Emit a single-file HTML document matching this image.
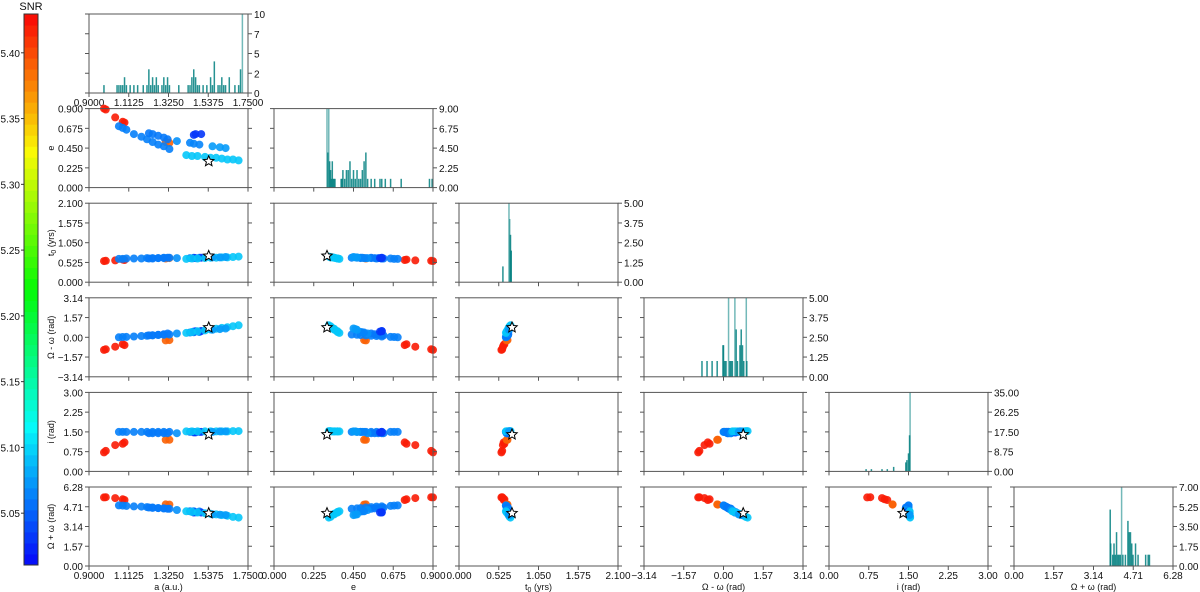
<!DOCTYPE html>
<html><head><meta charset="utf-8"><style>
html,body{margin:0;padding:0;background:#fff;width:1200px;height:592px;overflow:hidden}
svg{display:block;font-family:"Liberation Sans","DejaVu Sans",sans-serif}
</style></head><body>
<svg id="fig" width="1200" height="592"></svg>
<script>
// ---- data ----
const snr = [5.42,5.42,5.42,5.42,5.42, 5.39,5.39,
 5.063,5.063,5.063,5.063,5.063,5.063,5.063,5.063,5.063,5.063,
 5.06,5.06,5.06,5.06,5.06, 5.07, 5.065,5.065,5.065, 5.031,5.031,5.031,
 5.094,5.094,5.094,5.094,5.094,5.094,5.094,5.094,5.094,5.094, 5.075,5.075,5.075];
const aVals = [0.98,0.99,1.04,1.08,1.09, 1.31,1.33,
 1.06,1.08,1.10,1.14,1.18,1.21,1.24,1.27,1.30,1.33,
 1.22,1.24,1.27,1.30,1.32, 1.37, 1.44,1.46,1.49, 1.46,1.47,1.50,
 1.42,1.45,1.48,1.52,1.55,1.58,1.61,1.64,1.67,1.70, 1.56,1.60,1.63];
const eVals = [0.90,0.89,0.80,0.75,0.74, 0.52,0.51,
 0.70,0.68,0.66,0.61,0.58,0.55,0.52,0.49,0.47,0.44,
 0.62,0.61,0.59,0.57,0.55, 0.53, 0.51,0.50,0.49, 0.60,0.61,0.61,
 0.37,0.36,0.36,0.35,0.34,0.34,0.33,0.32,0.32,0.31, 0.47,0.46,0.45];
const t0Vals = [0.56,0.57,0.58,0.60,0.59, 0.63,0.64,
 0.62,0.62,0.63,0.63,0.63,0.64,0.64,0.64,0.65,0.65,
 0.63,0.63,0.64,0.64,0.65, 0.64, 0.64,0.65,0.65, 0.64,0.64,0.65,
 0.62,0.63,0.63,0.64,0.65,0.65,0.66,0.66,0.67,0.68, 0.66,0.66,0.67];
const dmVals = [-1.0,-0.95,-0.75,-0.55,-0.62, -0.25,-0.22,
 0.0,0.02,0.03,0.06,0.10,0.12,0.15,0.18,0.20,0.22,
 0.15,0.17,0.20,0.25,0.30, 0.30, 0.38,0.40,0.42, 0.45,0.48,0.50,
 0.35,0.42,0.48,0.55,0.62,0.68,0.75,0.80,0.88,0.95, 0.60,0.65,0.70];
const incVals = [0.72,0.78,1.00,1.05,1.10, 1.20,1.20,
 1.50,1.50,1.50,1.50,1.50,1.50,1.50,1.50,1.50,1.50,
 1.45,1.45,1.45,1.45,1.45, 1.45, 1.50,1.50,1.50, 1.48,1.48,1.50,
 1.52,1.52,1.52,1.52,1.52,1.52,1.52,1.52,1.53,1.53, 1.50,1.52,1.52];
const dpVals = [5.45,5.47,5.40,5.30,5.25, 4.90,4.88,
 4.82,4.80,4.78,4.74,4.72,4.68,4.65,4.60,4.58,4.55,
 4.65,4.62,4.60,4.58,4.55, 4.45, 4.35,4.35,4.33, 4.25,4.27,4.25,
 4.35,4.30,4.25,4.20,4.15,4.10,4.05,4.00,3.90,3.85, 4.10,4.08,4.05];
const truth = [1.54,0.30,0.70,0.78,1.40,4.20];

const histA = [[0.98,1],[1.05,1],[1.06,1],[1.07,1],[1.08,1],[1.09,2],[1.10,1],[1.12,1],[1.14,1],[1.16,1],[1.19,1],[1.21,1],[1.22,3],[1.23,1],[1.24,2],[1.25,1],[1.26,2],[1.27,1],[1.29,1],[1.30,2],[1.31,1],[1.32,2],[1.33,1],[1.38,1],[1.43,1],[1.44,1],[1.45,2],[1.46,3],[1.47,2],[1.48,1],[1.49,1],[1.51,1],[1.53,1],[1.55,2],[1.56,1],[1.57,4],[1.59,1],[1.60,1],[1.61,2],[1.62,1],[1.63,1],[1.65,2],[1.68,1],[1.70,1],[1.71,3],[1.72,10]];
const histE = [[0.30,9],[0.305,4],[0.31,9],[0.315,3],[0.32,2],[0.325,1],[0.33,3],[0.335,1],[0.34,1],[0.345,1],[0.38,1],[0.385,1],[0.39,2],[0.40,1],[0.41,2],[0.42,2],[0.43,3],[0.44,1],[0.45,2],[0.46,1],[0.47,2],[0.48,1],[0.49,1],[0.50,2],[0.51,3],[0.52,4],[0.53,1],[0.55,1],[0.57,1],[0.60,1],[0.61,1],[0.63,1],[0.66,1],[0.72,1],[0.88,1],[0.895,1]];
const histT = [[0.58,1],[0.66,5],[0.67,4],[0.68,3],[0.69,2]];
const histDm = [[-0.85,1],[-0.65,1],[-0.45,1],[-0.25,1],[-0.02,2],[0.0,2],[0.05,1],[0.1,1],[0.2,5],[0.25,1],[0.3,1],[0.35,1],[0.45,5],[0.5,3],[0.55,1],[0.65,2],[0.7,3],[0.75,2],[0.8,1],[0.9,5],[0.92,1]];
const histI = [[0.7,1],[0.8,1],[1.0,1],[1.1,1],[1.22,2],[1.45,4],[1.47,5],[1.5,8],[1.52,16],[1.53,35]];
const histDp = [[3.8,5],[3.82,2],[3.9,1],[3.95,2],[4.0,1],[4.05,3],[4.1,1],[4.15,1],[4.2,1],[4.25,7],[4.3,1],[4.4,1],[4.5,4],[4.55,3],[4.6,3],[4.65,2],[4.7,1],[4.8,2],[4.9,1],[5.2,1],[5.3,1],[5.35,1]];

const axisTickLabels = [
 ["0.9000","1.1125","1.3250","1.5375","1.7500"],
 ["0.000","0.225","0.450","0.675","0.900"],
 ["0.000","0.525","1.050","1.575","2.100"],
 ["\u22123.14","\u22121.57","0.00","1.57","3.14"],
 ["0.00","0.75","1.50","2.25","3.00"],
 ["0.00","1.57","3.14","4.71","6.28"]];
const histTickLabels = [
 ["0","2","5","7","10"],
 ["0.00","2.25","4.50","6.75","9.00"],
 ["0.00","1.25","2.50","3.75","5.00"],
 ["0.00","1.25","2.50","3.75","5.00"],
 ["0.00","8.75","17.50","26.25","35.00"],
 ["0.00","1.75","3.50","5.25","7.00"]];
const histMax = [10,9,5,5,35,7];
const axisNames = ["a (a.u.)","e","t0 (yrs)","\u03A9 - \u03C9 (rad)","i (rad)","\u03A9 + \u03C9 (rad)"];
const cbTicks = ["5.05","5.10","5.15","5.20","5.25","5.30","5.35","5.40"];

// ---- layout ----
const ranges = [[0.9,1.75],[0,0.9],[0,2.1],[-3.14,3.14],[0,3],[0,6.28]];
const vars = [aVals,eVals,t0Vals,dmVals,incVals,dpVals];
const hists = [histA,histE,histT,histDm,histI,histDp];
const X0=89, XS=185, W=159, Y0=14, YS=94.6, H=79;
const NS="http://www.w3.org/2000/svg";
const svg=document.getElementById('fig');
function el(tag,attrs,parent){const e=document.createElementNS(NS,tag);for(const k in attrs)e.setAttribute(k,attrs[k]);(parent||svg).appendChild(e);return e;}
function txt(s,x,y,anchor,parent,size){const t=el('text',{x:x,y:y,'text-anchor':anchor||'middle','font-size':size||10,fill:'#111'},parent);t.textContent=s;return t;}
function sx(c,v){const r=ranges[c];return X0+XS*c+(v-r[0])/(r[1]-r[0])*W;}
function sy(r,v){const g=ranges[r];return Y0+YS*r+H-(v-g[0])/(g[1]-g[0])*H;}
const VMIN=5.0106, VMAX=5.4295;
function cmap(t){t=Math.max(0,Math.min(1,t));const h=240*(1-t);return `hsl(${h.toFixed(1)},95%,50%)`;}
function colorOf(s){return cmap((s-VMIN)/(VMAX-VMIN));}
function star(cx,cy,R){let p=[];for(let k=0;k<10;k++){const rr=k%2?R*0.45:R;const an=-Math.PI/2+k*Math.PI/5;p.push((cx+rr*Math.cos(an)).toFixed(1)+','+(cy+rr*Math.sin(an)).toFixed(1));}return p.join(' ');}

for(let r=0;r<6;r++){
 for(let c=0;c<=r;c++){
  const x=X0+XS*c, y=Y0+YS*r;
  const g=el('g',{});
  
  
  if(r===c){
   const hmax=histMax[c], bw=Math.max(1.5,W/110);
   hists[c].forEach(([v,n])=>{
    const bx=sx(c,v), bh=n/hmax*H;
    const b=el('rect',{x:(bx-bw/2).toFixed(2),y:(y+H-bh).toFixed(2),width:bw.toFixed(2),height:bh.toFixed(2),fill:'#007f7f','fill-opacity':n>=hmax*0.8?0.55:0.85},g);
    
    
   });
   for(let k=0;k<5;k++){const ty=y+H-k*H/4;el('line',{x1:x+W,x2:x+W+4,y1:ty,y2:ty,stroke:'#555'},g);txt(histTickLabels[c][k],x+W+6,ty+4,'start',g);}
  } else {
   for(let i=0;i<aVals.length;i++){
    const p=el('circle',{cx:sx(c,vars[c][i]).toFixed(1),cy:sy(r,vars[r][i]).toFixed(1),r:4,fill:colorOf(snr[i]),'fill-opacity':0.9},g);
    
    
   }
   const s=el('polygon',{points:star(sx(c,truth[c]),sy(r,truth[r]),5.5),fill:'#fff',stroke:'#000','stroke-width':1},g);
   
   
   for(let k=0;k<5;k++){const ty=y+H-k*H/4;el('line',{x1:x+W,x2:x+W+4,y1:ty,y2:ty,stroke:'#555'},g);}
  }
  el('rect',{x:x,y:y,width:W,height:H,fill:'none',stroke:'#555','stroke-width':1},g);
  for(let k=0;k<5;k++){
   const tx=x+k*W/4;el('line',{x1:tx,x2:tx,y1:y+H,y2:y+H+4,stroke:'#555'},g);
   const ty=y+H-k*H/4;el('line',{x1:x-4,x2:x,y1:ty,y2:ty,stroke:'#555'},g);
   if(r===5||r===0&&c===0) txt(axisTickLabels[c][k],tx,y+H+13,'middle',g);
   if(c===0&&r>0) txt(axisTickLabels[r][k],x-6,ty+4,'end',g);
  }
  if(r===5){const t=txt('',x+W/2,y+H+24,'middle',g,9);
   if(c===2){t.innerHTML='t<tspan font-size="7" dy="2">0</tspan><tspan dy="-2"> (yrs)</tspan>';}else t.textContent=axisNames[c];
   }
  if(c===0&&r>0){const cy=y+H/2;const t=txt('',54,cy,'middle',g,9);t.setAttribute('transform',`rotate(-90 54 ${cy})`);
   if(r===2){t.innerHTML='t<tspan font-size="7" dy="2">0</tspan><tspan dy="-2"> (yrs)</tspan>';}else t.textContent=axisNames[r];
   }
 }
}
// colorbar
const cb=el('g',{});


const CBT=14,CBB=565,CBX=24,CBW=14,N=50;
for(let k=0;k<N;k++){const t=(k+0.5)/N;const y1=CBB-(k+1)*(CBB-CBT)/N;el('rect',{x:CBX,y:y1.toFixed(2),width:CBW,height:((CBB-CBT)/N+0.5).toFixed(2),fill:cmap(t)},cb);}
el('rect',{x:CBX,y:CBT,width:CBW,height:CBB-CBT,fill:'none',stroke:'#333'},cb);
cbTicks.forEach(s=>{const v=parseFloat(s);const y=CBB-(v-VMIN)/(VMAX-VMIN)*(CBB-CBT);el('line',{x1:CBX-3,x2:CBX,y1:y,y2:y,stroke:'#333'},cb);txt(s,CBX-4,y+4,'end',cb,10);});
txt('SNR',CBX+CBW/2,10,'middle',cb,11);
</script>
</body></html>
